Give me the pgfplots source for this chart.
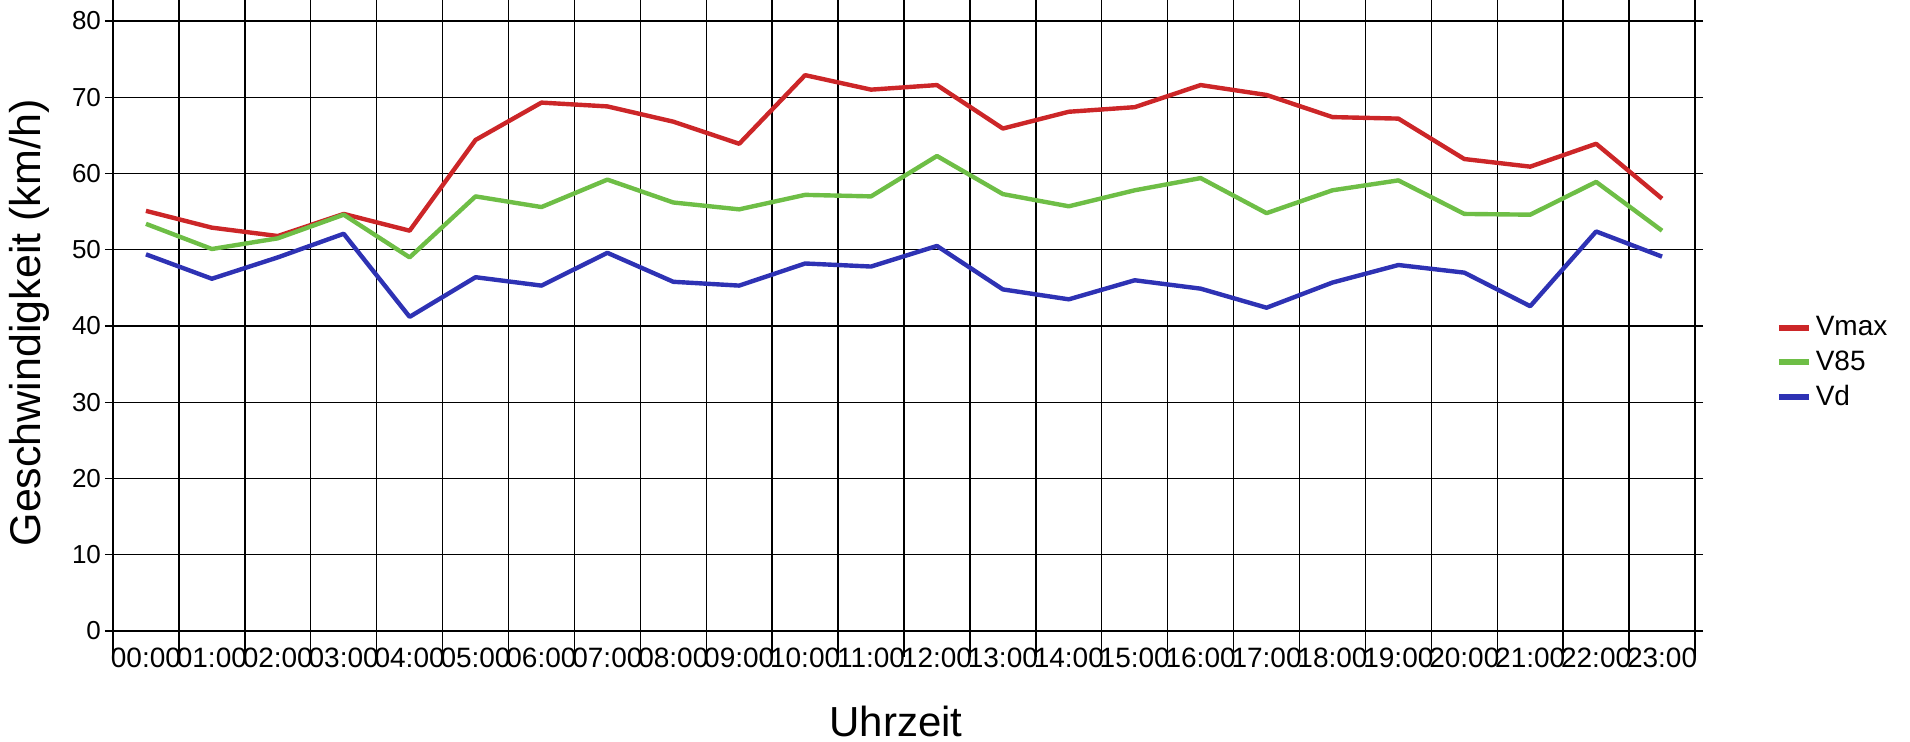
\documentclass[border=0pt]{standalone}
\usepackage{fontspec}
\setmainfont{Liberation Sans}
\usepackage{pgfplots}
\usepackage{pgfplotstable}
\pgfplotsset{compat=1.18}
\definecolor{cred}{RGB}{204,38,40}
\definecolor{cgreen}{RGB}{110,190,70}
\definecolor{cblue}{RGB}{46,50,180}
\pgfplotstableread{
x vmax v85 vd
0 55.1 53.4 49.4
1 52.9 50.1 46.2
2 51.8 51.5 49.0
3 54.7 54.6 52.1
4 52.5 49.0 41.2
5 64.4 57.0 46.4
6 69.3 55.6 45.3
7 68.8 59.2 49.6
8 66.8 56.2 45.8
9 63.9 55.3 45.3
10 72.9 57.2 48.2
11 71.0 57.0 47.8
12 71.6 62.3 50.5
13 65.9 57.3 44.8
14 68.1 55.7 43.5
15 68.7 57.8 46.0
16 71.6 59.4 44.9
17 70.3 54.8 42.4
18 67.4 57.8 45.7
19 67.2 59.1 48.0
20 61.9 54.7 47.0
21 60.9 54.6 42.6
22 63.9 58.9 52.4
23 56.7 52.5 49.1
}\data
\begin{document}
\begin{tikzpicture}
\useasboundingbox (-56.5pt,-55pt) rectangle (898.5pt,315.5pt);
\begin{axis}[
 at={(0,0)}, anchor=south west,
 scale only axis, width=791pt, height=305pt,
 xmin=-0.5, xmax=23.5, ymin=0, ymax=80,
 xtick={0,...,23},
 xticklabels={00:00,01:00,02:00,03:00,04:00,05:00,06:00,07:00,08:00,09:00,10:00,11:00,12:00,13:00,14:00,15:00,16:00,17:00,18:00,19:00,20:00,21:00,22:00,23:00},
 minor xtick={-0.5,0.5,...,23.5},
 ytick={0,10,...,80},
 xminorgrids=true, ymajorgrids=true, xmajorgrids=false,
 tick align=outside,
 major tick length=4pt, minor tick length=13pt,
 major x tick style={draw=none},
 grid style={black, line width=0.7pt},
 minor grid style={black, line width=0.7pt},
 axis line style={black, line width=0.8pt},
 tick style={black, line width=0.7pt},
 yticklabel style={font=\fontsize{13}{15}\selectfont, xshift=1.5pt},
 xticklabel style={font=\fontsize{14}{16}\selectfont, yshift=-1pt},
 /pgf/number format/assume math mode=true,
 xlabel={Uhrzeit},
 xlabel style={font=\fontsize{21}{25}\selectfont, at={(axis description cs:0.495,-0.1475)}, anchor=center},
 ylabel={Geschwindigkeit (km/h)},
 ylabel style={font=\fontsize{21.5}{25}\selectfont, at={(axis description cs:-0.053,0.505)}, anchor=center},
 legend style={at={(1.047,0.44)}, anchor=west, draw=none, fill=none,
   font=\fontsize{14}{16}\selectfont, row sep=2pt,
   /tikz/every even column/.append style={column sep=5pt}},
 legend cell align=left,
 legend image code/.code={\draw[#1, line width=3pt] (0pt,0pt) -- (15pt,0pt);},
 every axis plot/.append style={line width=2.2pt, line join=round},
]
\addplot[cred, mark=none] table[x=x, y=vmax] {\data};
\addlegendentry{Vmax}
\addplot[cgreen, mark=none] table[x=x, y=v85] {\data};
\addlegendentry{V85}
\addplot[cblue, mark=none] table[x=x, y=vd] {\data};
\addlegendentry{Vd}
\end{axis}
\end{tikzpicture}
\end{document}
